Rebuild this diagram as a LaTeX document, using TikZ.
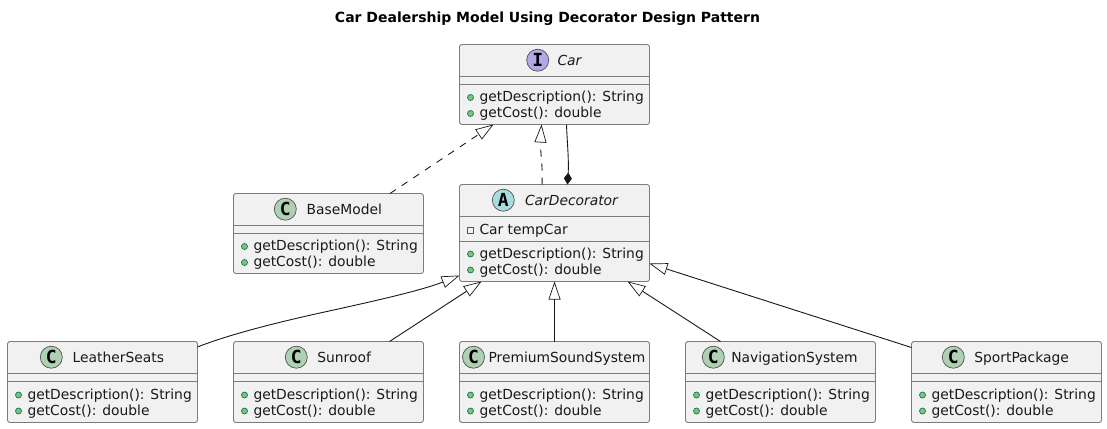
\documentclass[tikz,border=0pt]{standalone}
\usepackage{fontspec}
\setmainfont{DejaVu Sans}
\newfontfamily\circlefont{DejaVu Sans Mono}[BoldFont={DejaVu Sans Mono Bold}]
\usetikzlibrary{arrows.meta,calc}
\definecolor{boxfill}{HTML}{F1F1F1}
\definecolor{inkline}{HTML}{181818}
\definecolor{boxline}{HTML}{7C7C7C}
\definecolor{icolor}{HTML}{B4A7E5}
\definecolor{ccolor}{HTML}{ADD1B2}
\definecolor{acolor}{HTML}{A9DCDF}
\definecolor{pubfill}{HTML}{84BE84}
\definecolor{publine}{HTML}{038048}
\definecolor{privline}{HTML}{C82930}
\tikzset{
  x=1pt,y=-1pt,
  umlbox/.style={draw=boxline,fill=boxfill,line width=.9pt,rounded corners=2.5pt,inner sep=0pt,outer sep=0pt,minimum width=190pt,anchor=north west},
  sepline/.style={draw=boxline,line width=.9pt},
  badge/.style={circle,draw=inkline!75,line width=.7pt,minimum size=22pt,inner sep=0pt,font=\circlefont\bfseries\fontsize{18}{18}\selectfont},
  txt/.style={inner sep=0pt,outer sep=0pt,anchor=base west,font=\fontsize{13.85}{14}\selectfont,text=black!90},
  pub/.style={circle,draw=publine,fill=pubfill,line width=.7pt,minimum size=6pt,inner sep=0pt},
  priv/.style={rectangle,draw=privline,line width=.8pt,minimum size=6pt,inner sep=0pt},
  conn/.style={draw=inkline,line width=.9pt},
  ext/.style={conn,-{Triangle[open,length=18pt,width=12pt,fill=white,line width=.7pt]}},
  impl/.style={ext,dash pattern=on 7pt off 7pt},
  comp/.style={conn,-{Diamond[length=12pt,width=8pt,fill=inkline]}},
}
% id, x, top, bottom, sep1 offset, sep2 offset
\newcommand{\umlframe}[6]{%
  \node[umlbox,minimum height={(#4-#3)*1pt}] (#1) at (#2,#3) {};
  \draw[sepline] ([yshift=-#5pt]#1.north west) -- ([yshift=-#5pt]#1.north east);
  \draw[sepline] ([yshift=-#6pt]#1.north west) -- ([yshift=-#6pt]#1.north east);
}
% id, badge colour, letter, badge x offset, text x offset, style, name
\newcommand{\umlhead}[7]{%
  \node[badge,fill=#2] (#1-badge) at ([xshift=#4pt,yshift=-15.7pt]#1.north west) {#3};
  \node[txt,#6] (#1-name) at ([xshift=#5pt,yshift=-20.5pt]#1.north west) {#7};
}
% id, first baseline offset
\newcommand{\umlmethods}[2]{%
  \node[pub] (#1-m1) at ([xshift=11pt,yshift={-(#2-4)*1pt}]#1.north west) {};
  \node[txt] (#1-d) at ([xshift=20pt,yshift=-#2pt]#1.north west) {getDescription(): String};
  \node[pub] (#1-m2) at ([xshift=11pt,yshift={-(#2+12)*1pt}]#1.north west) {};
  \node[txt] (#1-c) at ([xshift=20pt,yshift={-(#2+16)*1pt}]#1.north west) {getCost(): double};
}
\begin{document}
\begin{tikzpicture}
\useasboundingbox (0,0) rectangle (1107,428);
\node[inner sep=0pt,font=\bfseries\fontsize{14}{14}\selectfont,anchor=base] (title) at (547.5,23) {Car Dealership Model Using Decorator Design Pattern};

\umlframe{car}{459.5}{44.5}{124.5}{32}{40}
\umlhead{car}{icolor}{I}{78.2}{98}{font=\itshape\fontsize{13.85}{14}\selectfont}{Car}
\umlmethods{car}{57}

\umlframe{base}{233.5}{193.5}{273.5}{32}{40}
\umlhead{base}{ccolor}{C}{51.8}{73.2}{}{BaseModel}
\umlmethods{base}{57}

\umlframe{decor}{459.5}{184.5}{281.5}{32}{57}
\umlhead{decor}{acolor}{A}{43.8}{65.5}{font=\itshape\fontsize{13.85}{14}\selectfont}{CarDecorator}
\node[priv] (decor-f) at ([xshift=11pt,yshift=-45.5pt]decor.north west) {};
\node[txt] (decor-ft) at ([xshift=20pt,yshift=-49.5pt]decor.north west) {Car tempCar};
\umlmethods{decor}{73.5}

\umlframe{leather}{7.5}{341.5}{422.5}{32}{40}
\umlhead{leather}{ccolor}{C}{43.8}{65.2}{}{LeatherSeats}
\umlmethods{leather}{57.5}

\umlframe{sunroof}{233.5}{341.5}{422.5}{32}{40}
\umlhead{sunroof}{ccolor}{C}{62.8}{83.8}{}{Sunroof}
\umlmethods{sunroof}{57.5}

\umlframe{premium}{459.5}{341.5}{422.5}{32}{40}
\umlhead{premium}{ccolor}{C}{14}{29}{}{PremiumSoundSystem}
\umlmethods{premium}{57.5}

\umlframe{nav}{685.5}{341.5}{422.5}{32}{40}
\umlhead{nav}{ccolor}{C}{27.8}{45.8}{}{NavigationSystem}
\umlmethods{nav}{57.5}

\umlframe{sport}{911.5}{341.5}{422.5}{32}{40}
\umlhead{sport}{ccolor}{C}{41.8}{62.8}{}{SportPackage}
\umlmethods{sport}{57.5}

\draw[impl] ([xshift=156.5pt]base.north west) -- ([xshift=34pt]car.south west);
\draw[impl] ([xshift=82.5pt]decor.north west) .. controls (543,165) and (540,150) .. ([xshift=82pt]car.south west);
\draw[comp] ([xshift=107pt]car.south west) .. controls (567,140) and (569,160) .. ([xshift=108pt]decor.north west);
\draw[ext] ([yshift=-5.5pt]leather.north east) .. controls (225,336) and (270,324) .. (320,313) .. controls (370,302) and (420,291) .. ([yshift=6pt]decor.south west);
\draw[ext] ([xshift=156pt]sunroof.north west) -- ([xshift=22pt]decor.south west);
\draw[ext] (premium.north) -- ([xshift=95pt]decor.south west);
\draw[ext] ([xshift=35pt]nav.north west) -- ([xshift=168pt]decor.south west);
\draw[ext] ([yshift=-6pt]sport.north west) -- ([yshift=18pt]decor.south east);
\end{tikzpicture}
\end{document}
